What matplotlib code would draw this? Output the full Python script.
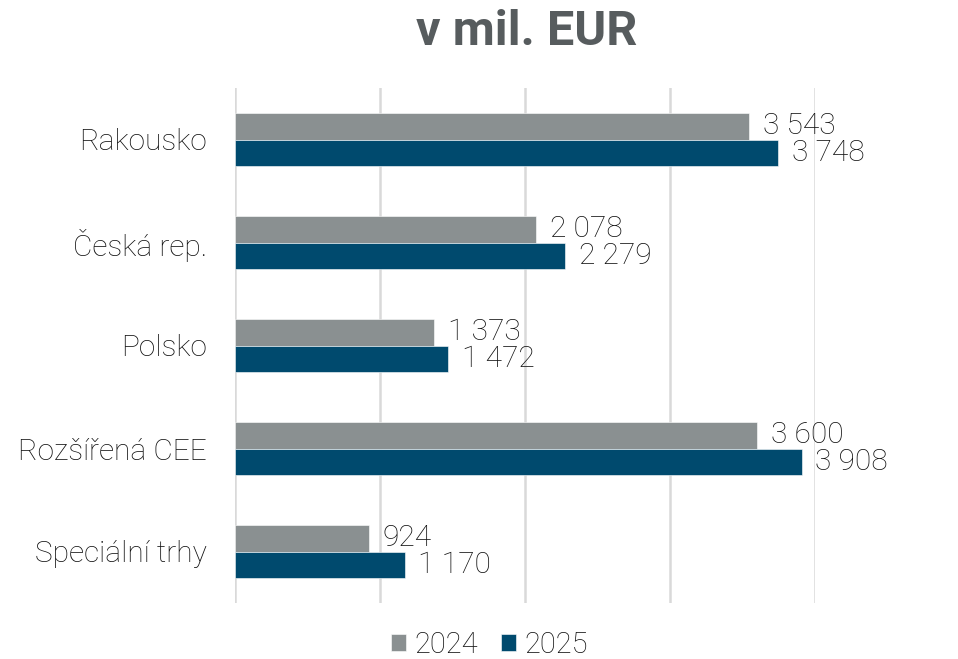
import matplotlib
matplotlib.use("Agg")
import matplotlib.pyplot as plt
import numpy as np

plt.rcParams['font.family'] = ['Roboto', 'DejaVu Sans']

categories = ["Rakousko", "Česká rep.", "Polsko", "Rozšířená CEE", "Speciální trhy"]
vals_2024 = [3543, 2078, 1373, 3600, 924]
vals_2025 = [3748, 2279, 1472, 3908, 1170]
series = ["2024", "2025"]
colors = ["#8A9091", "#004A6E"]

def fmt(v):
    return f"{v:,}".replace(",", " ")

fig = plt.figure(figsize=(9.58, 6.59), dpi=100)
ax = fig.add_axes([235/958, 1 - 603/659, (815-235)/958, (603-88)/659])

y = np.arange(len(categories))
h = 0.257
for k, (vals, col) in enumerate([(vals_2024, colors[0]), (vals_2025, colors[1])]):
    pos = y - h/2 if k == 0 else y + h/2
    ax.barh(pos, vals, height=h, color=col, edgecolor="white", linewidth=0.4,
            label=series[k], zorder=3)
    for p, v in zip(pos, vals):
        ax.text(v + 95, p, fmt(v), va="center", ha="left", fontsize=21.5,
                fontweight="light", color="#111111", clip_on=False)

ax.set_xlim(0, 4000)
ax.set_ylim(len(categories) - 0.5, -0.5)
ax.set_xticks([0, 1000, 2000, 3000, 4000])
ax.set_xticklabels([])
ax.tick_params(axis="x", length=0)
ax.xaxis.grid(True, color="#D9D9D9", linewidth=1.8, zorder=0)
ax.set_yticks(y)
ax.set_yticklabels(categories, fontsize=21.5, fontweight="light", color="#111111")
ax.tick_params(axis="y", length=0, pad=20)
for s in ax.spines.values():
    s.set_visible(False)

fig.text(0.55, 0.952, "v mil. EUR", ha="center", va="center", fontsize=35,
         fontweight="bold", color="#575C5E")

leg = fig.legend(loc="center", bbox_to_anchor=(0.511, 0.021), ncol=2, frameon=False,
                 fontsize=21, handlelength=0.5, handleheight=0.5,
                 handletextpad=0.3, columnspacing=0.8)
for t in leg.get_texts():
    t.set_fontweight("light")
    t.set_color("#111111")

fig.savefig("out.png", dpi=100)
